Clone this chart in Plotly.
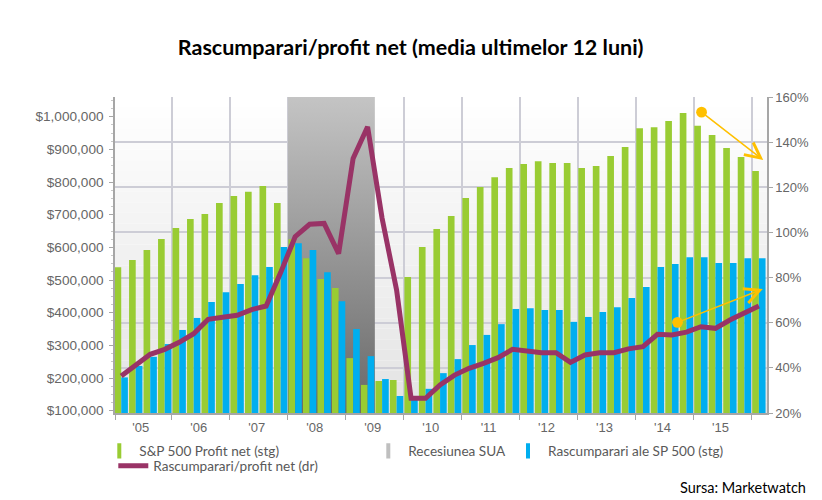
import plotly.graph_objects as go

# ---------------- data ----------------
quarters = [f"{y}Q{q}" for y in range(2005, 2016) for q in range(1, 5)] + ["2016Q1"]

profit_net = [539000, 561000, 592000, 626000, 659000, 687000, 702000, 736000,
              757000, 770000, 788000, 736000, 625000, 567000, 503000, 476000,
              261000, 179000, 191000, 194000, 509000, 601000, 656000, 696000,
              751000, 785000, 815000, 843000, 855000, 864000, 858000, 858000,
              843000, 849000, 880000, 907000, 965000, 968000, 987000, 1011000,
              972000, 944000, 904000, 877000, 834000]

buybacks = [202000, 237000, 265000, 304000, 347000, 384000, 433000, 463000,
            488000, 515000, 540000, 601000, 613000, 592000, 524000, 435000,
            350000, 267000, 197000, 145000, 135000, 167000, 215000, 258000,
            301000, 332000, 365000, 411000, 414000, 408000, 408000, 372000,
            387000, 402000, 417000, 445000, 479000, 540000, 549000, 570000,
            570000, 552000, 552000, 567000, 567000]

buyback_ratio = [36.4, 41.3, 46.0, 48.2, 51.3, 55.1, 61.5, 62.4, 63.3, 65.8,
                 67.4, 82.2, 98.1, 103.6, 104.0, 90.6, 132.8, 146.8, 106.3, 74.5,
                 26.5, 26.5, 32.4, 36.8, 39.8, 42.0, 44.5, 48.2, 47.5, 46.7,
                 46.7, 42.4, 45.7, 46.7, 46.7, 48.4, 49.4, 54.9, 54.6, 55.8,
                 58.2, 57.5, 61.2, 64.4, 67.4]

year_labels = ["'05", "'06", "'07", "'08", "'09", "'10", "'11", "'12", "'13", "'14", "'15"]
left_ticks = [100000 * i for i in range(1, 11)]
recession = ["2008Q1", "2009Q2"]

# trend arrows: (tail quarter-pos, tail %, head quarter-pos, head %)
trend_arrows = [(39.94, 153.8, 44.30, 132.1),
                (38.28, 59.9, 44.27, 74.9)]

legend_names = ["S&P 500 Profit net (stg)", "Recesiunea SUA",
                "Rascumparari ale SP 500 (stg)", "Rascumparari/profit net (dr)"]

# ---------------- style ----------------
GREEN = "#99CC33"
BLUE = "#00AEEF"
LINE = "#993366"
GRAY = "#BFBFBF"
ORANGE = "#FFC000"
GRID = "#CDCDD6"
AXIS = "#A6A6A6"
TICK = "#666666"
TICKFONT = dict(family="Liberation Sans, Arial, sans-serif", size=13, color=TICK)
LEFTFONT = dict(family="Liberation Sans, Arial, sans-serif", size=13.6, color=TICK)
CAL = "Lato, Noto Sans, sans-serif"

Y_LEFT = [93000, 1060300]
Y_RIGHT = [20, 160]
X_RANGE = [-0.43, 44.56]

# page has an 8px body margin; work in figure pixels
OFF = 8
W, H = 814, 492
ML, MT, PW, PH = 115 - OFF, 97 - OFF, 652, 316
MR = W - ML - PW
MB = H - MT - PH


def px_x(page_x):
    return (page_x - OFF - ML) / PW


def px_y(page_y):
    return (MT + PH - (page_y - OFF)) / PH


x = list(range(len(quarters)))

fig = go.Figure()

# recession band (gradient) on the base subplot, below the bars
r0 = quarters.index(recession[0]) - 0.5
r1 = quarters.index(recession[1]) + 0.5
fig.add_trace(go.Scatter(
    x=[r0, r1, r1, r0, r0],
    y=[Y_LEFT[0], Y_LEFT[0], Y_LEFT[1], Y_LEFT[1], Y_LEFT[0]],
    mode="none", fill="toself",
    fillgradient=dict(type="vertical",
                      colorscale=[[0, "#686868"], [1, "#C4C4C4"]],
                      start=Y_LEFT[0], stop=Y_LEFT[1]),
    showlegend=False, hoverinfo="skip", xaxis="x", yaxis="y"))

# bars
fig.add_trace(go.Bar(x=x, y=profit_net, name=legend_names[0], marker=dict(color=GREEN, line=dict(width=0)),
                     yaxis="y2", showlegend=False))
fig.add_trace(go.Bar(x=x, y=buybacks, name=legend_names[2], marker=dict(color=BLUE, line=dict(width=0)),
                     yaxis="y2", showlegend=False))

# ratio line
fig.add_trace(go.Scatter(x=x, y=buyback_ratio, mode="lines", name=legend_names[3],
                         line=dict(color=LINE, width=5), yaxis="y3", legend="legend4"))

# legend swatches
for name, color, leg in [(legend_names[0], GREEN, "legend"),
                         (legend_names[1], GRAY, "legend2"),
                         (legend_names[2], BLUE, "legend3")]:
    fig.add_trace(go.Scatter(x=[None], y=[None], mode="markers", name=name, legend=leg,
                             marker=dict(symbol="line-ns", size=11, color=color,
                                         line=dict(width=4, color=color)),
                             yaxis="y2"))

# background gradient strips (below gridlines)
N = 30
shapes = []
for i in range(N):
    t = i / (N - 1)
    c = int(round(255 - (255 - 227) * t))
    shapes.append(dict(type="rect", xref="paper", yref="paper", layer="below",
                       x0=0, x1=1, y0=1 - (i + 1) / N, y1=1 - i / N,
                       fillcolor=f"rgb({c},{c},{c})", line=dict(width=0)))

annotations = []
for tx, ty, hx, hy in trend_arrows:
    annotations.append(dict(x=hx, y=hy, ax=tx, ay=ty, xref="x", yref="y3", axref="x", ayref="y3",
                            text="", showarrow=True, arrowside="end+start",
                            arrowhead=5, arrowsize=2, startarrowhead=6, startarrowsize=1.8,
                            arrowwidth=1.5, arrowcolor=ORANGE, standoff=0, startstandoff=0))
annotations.append(dict(x=px_x(808), y=px_y(487),
                        xref="paper", yref="paper", xanchor="right", yanchor="middle",
                        text="Sursa: Marketwatch", showarrow=False,
                        font=dict(family=CAL, size=14.5, color="#000000")))

legend_common = dict(xref="paper", yref="paper", xanchor="left", yanchor="middle",
                     orientation="h", bgcolor="rgba(0,0,0,0)", borderwidth=0,
                     font=dict(family=CAL, size=13.6, color="#595959"))
TEXT_GAP = 40  # legend text starts 40px right of the legend box edge

fig.update_layout(
    width=W, height=H,
    margin=dict(l=ML, r=MR, t=MT, b=MB, autoexpand=False),
    paper_bgcolor="white", plot_bgcolor="white",
    barmode="group", bargap=0.08, bargroupgap=0,
    hovermode=False,
    title=dict(text="<b>Rascumparari/profit net (media ultimelor 12 luni)</b>",
               x=(410.7 - OFF) / W, xref="container", xanchor="center",
               y=1 - (47 - OFF) / H, yref="container", yanchor="middle",
               font=dict(family=CAL, size=21.5, color="#000000")),
    xaxis=dict(range=X_RANGE, tickmode="array", tickvals=[1.35 + 4 * i for i in range(len(year_labels))],
               ticktext=year_labels, ticks="", showgrid=False, zeroline=False,
               showline=True, linecolor=AXIS, linewidth=1.5, tickfont=TICKFONT,
               ticklabelstandoff=2,
               minor=dict(tickmode="array", tickvals=[X_RANGE[0]] + [3.5 + 4 * i for i in range(11)],
                          showgrid=True, gridcolor=GRID, gridwidth=1.5,
                          ticks="outside", ticklen=5, tickcolor=AXIS)),
    yaxis=dict(range=Y_LEFT, tickmode="array", tickvals=left_ticks,
               ticktext=[f"${v:,}" for v in left_ticks],
               showgrid=False, zeroline=False,
               showline=True, linecolor=AXIS, linewidth=1.5,
               ticks="outside", ticklen=4, tickcolor=AXIS, tickfont=LEFTFONT,
               ticklabelstandoff=3,
               minor=dict(ticks="outside", ticklen=2, dtick=25000, tickcolor="#C8C8C8", showgrid=False)),
    yaxis2=dict(range=Y_LEFT, overlaying="y", visible=False),
    yaxis3=dict(range=Y_RIGHT, overlaying="y", side="right", dtick=20, tick0=20,
                ticksuffix="%", showgrid=True, gridcolor=GRID, gridwidth=1.5, zeroline=False,
                showline=True, linecolor=AXIS, linewidth=1.5,
                ticks="outside", ticklen=4, tickcolor=AXIS, tickfont=TICKFONT),
    legend=dict(x=px_x(139.3 - TEXT_GAP), y=px_y(451), **legend_common),
    legend2=dict(x=px_x(408.3 - TEXT_GAP), y=px_y(451), **legend_common),
    legend3=dict(x=px_x(548 - TEXT_GAP), y=px_y(451), **legend_common),
    legend4=dict(x=px_x(153.3 - TEXT_GAP), y=px_y(466), **legend_common),
    shapes=shapes,
    annotations=annotations,
)

fig.write_html("out.html")
